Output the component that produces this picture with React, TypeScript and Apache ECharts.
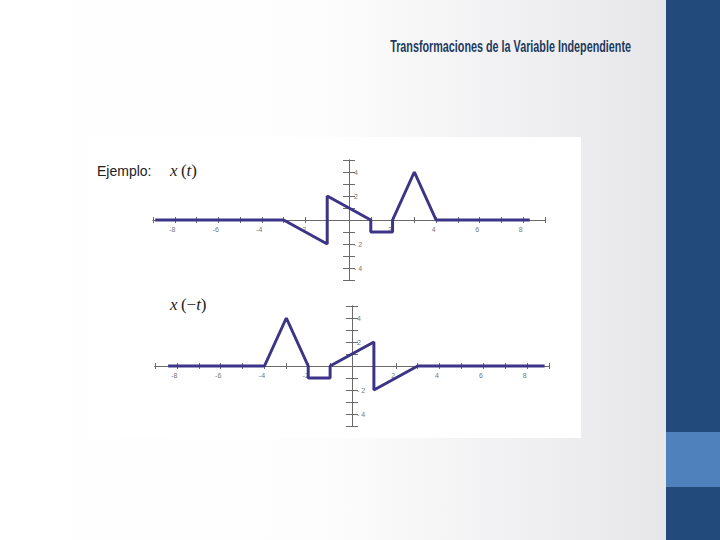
import React, { useEffect, useRef } from "react";
import * as echarts from "echarts";

// x(t) breakpoints (top panel)
const tTop = [-8.9, -3, -1, -1, 1, 1, 2, 2, 3, 4, 8.3];
const xTop = [0, 0, -2, 2, 0, -1, -1, 0, 4, 0, 0];
// x(-t) breakpoints (bottom panel)
const tBot = [-8.4, -4, -3, -2, -2, -1, -1, 1, 1, 3, 8.8];
const xBot = [0, 0, 4, 0, -1, -1, 0, 2, -2, 0, 0];

const xTickLabels = [-8, -6, -4, -2, 2, 4, 6, 8];
const yTickLabels = [-4, -2, 2, 4];

const titleText = "Transformaciones de la Variable Independiente";
const exampleText = "Ejemplo:";

const LINE = "#3c3486";
const AXIS = "#6a6a6a";

const GRIDS = [
  { left: 153, width: 392, top: 160, height: 120 },
  { left: 155, width: 394, top: 306, height: 120 },
];

function xAxes(gridIndex: number) {
  const g = GRIDS[gridIndex];
  const base = {
    type: "value",
    gridIndex,
    min: -9,
    max: 9,
    interval: 1,
    splitLine: { show: false },
    axisLine: { onZero: false, lineStyle: { color: AXIS, width: 1 } },
    axisTick: { show: true, length: 3, lineStyle: { color: AXIS, width: 1 } },
  };
  return [
    {
      ...base,
      position: "bottom",
      offset: -g.height / 2,
      axisLabel: {
        show: true,
        fontSize: 7,
        color: "#777",
        margin: 6,
        fontFamily: "Liberation Sans",
        padding: [0, 5, 0, 0],
        formatter: (v: number) => (xTickLabels.includes(v) ? String(v) : ""),
      },
    },
    { ...base, position: "top", offset: -g.height / 2, axisLabel: { show: false } },
  ];
}

function yAxes(gridIndex: number) {
  const g = GRIDS[gridIndex];
  const base = {
    type: "value",
    gridIndex,
    min: -5,
    max: 5,
    interval: 1,
    splitLine: { show: false },
    axisLine: { onZero: false, lineStyle: { color: AXIS, width: 1 } },
    axisTick: { show: true, length: 6, lineStyle: { color: AXIS, width: 1 } },
  };
  return [
    { ...base, position: "left", offset: -g.width / 2, axisLabel: { show: false } },
    {
      ...base,
      position: "right",
      offset: -g.width / 2,
      axisLabel: {
        show: true,
        fontSize: 7,
        color: "#777",
        margin: 5,
        fontFamily: "Liberation Sans",
        formatter: (v: number) =>
          yTickLabels.includes(v) ? (v < 0 ? "- " + Math.abs(v) : String(v)) : "",
      },
    },
  ];
}

export default function App() {
  const ref = useRef<HTMLDivElement>(null);
  useEffect(() => {
    if (!ref.current) return;
    const chart = echarts.init(ref.current, undefined, { renderer: "svg" });
    const mathRich = {
      i: { fontFamily: "Liberation Serif", fontStyle: "italic", fontSize: 17, fill: "#222" },
      n: { fontFamily: "Liberation Serif", fontSize: 17, fill: "#222" },
    };
    chart.setOption({
      animation: false,
      grid: GRIDS,
      xAxis: [...xAxes(0), ...xAxes(1)],
      yAxis: [...yAxes(0), ...yAxes(1)],
      series: [
        {
          type: "line",
          xAxisIndex: 0,
          yAxisIndex: 0,
          data: tTop.map((t, i) => [t, xTop[i]]),
          showSymbol: false,
          lineStyle: { color: LINE, width: 3 },
          z: 5,
        },
        {
          type: "line",
          xAxisIndex: 2,
          yAxisIndex: 2,
          data: tBot.map((t, i) => [t, xBot[i]]),
          showSymbol: false,
          lineStyle: { color: LINE, width: 3 },
          z: 5,
        },
      ],
      graphic: [
        {
          type: "rect",
          z: -10,
          shape: { x: 0, y: 0, width: 720, height: 540 },
          style: {
            fill: new echarts.graphic.LinearGradient(0, 0, 1, 0, [
              { offset: 0, color: "#ffffff" },
              { offset: 0.45, color: "#fdfdfd" },
              { offset: 0.92, color: "#e7e7ea" },
              { offset: 1, color: "#e4e4e8" },
            ]),
          },
        },
        {
          type: "rect",
          z: -9,
          shape: { x: 88, y: 137, width: 493, height: 301 },
          style: { fill: "#ffffff" },
        },
        {
          type: "rect",
          z: -9,
          shape: { x: 666, y: 0, width: 54, height: 540 },
          style: { fill: "#224a7b" },
        },
        {
          type: "rect",
          z: -8,
          shape: { x: 666, y: 432, width: 54, height: 55 },
          style: { fill: "#4f81bd" },
        },
        {
          type: "text",
          x: 631,
          y: 47,
          scaleX: 0.675,
          style: {
            text: titleText,
            fontFamily: "Liberation Sans",
            fontWeight: "bold",
            fontSize: 16,
            fill: "#1f3a60",
            textAlign: "right",
            textVerticalAlign: "middle",
          },
        },
        {
          type: "text",
          x: 97,
          y: 171,
          style: {
            text: exampleText,
            fontFamily: "Liberation Sans",
            fontSize: 14,
            fill: "#222",
            textAlign: "left",
            textVerticalAlign: "middle",
          },
        },
        {
          type: "text",
          x: 170,
          y: 170,
          style: {
            text: "{i|x} {n|(}{i|t}{n|)}",
            rich: mathRich,
            textAlign: "left",
            textVerticalAlign: "middle",
          },
        },
        {
          type: "text",
          x: 170,
          y: 304,
          style: {
            text: "{i|x} {n|(\u2212}{i|t}{n|)}",
            rich: mathRich,
            textAlign: "left",
            textVerticalAlign: "middle",
          },
        },
      ],
    });
    return () => chart.dispose();
  }, []);
  return (
    <div
      ref={ref}
      style={{ position: "absolute", left: 0, top: 0, width: 720, height: 540 }}
    />
  );
}
